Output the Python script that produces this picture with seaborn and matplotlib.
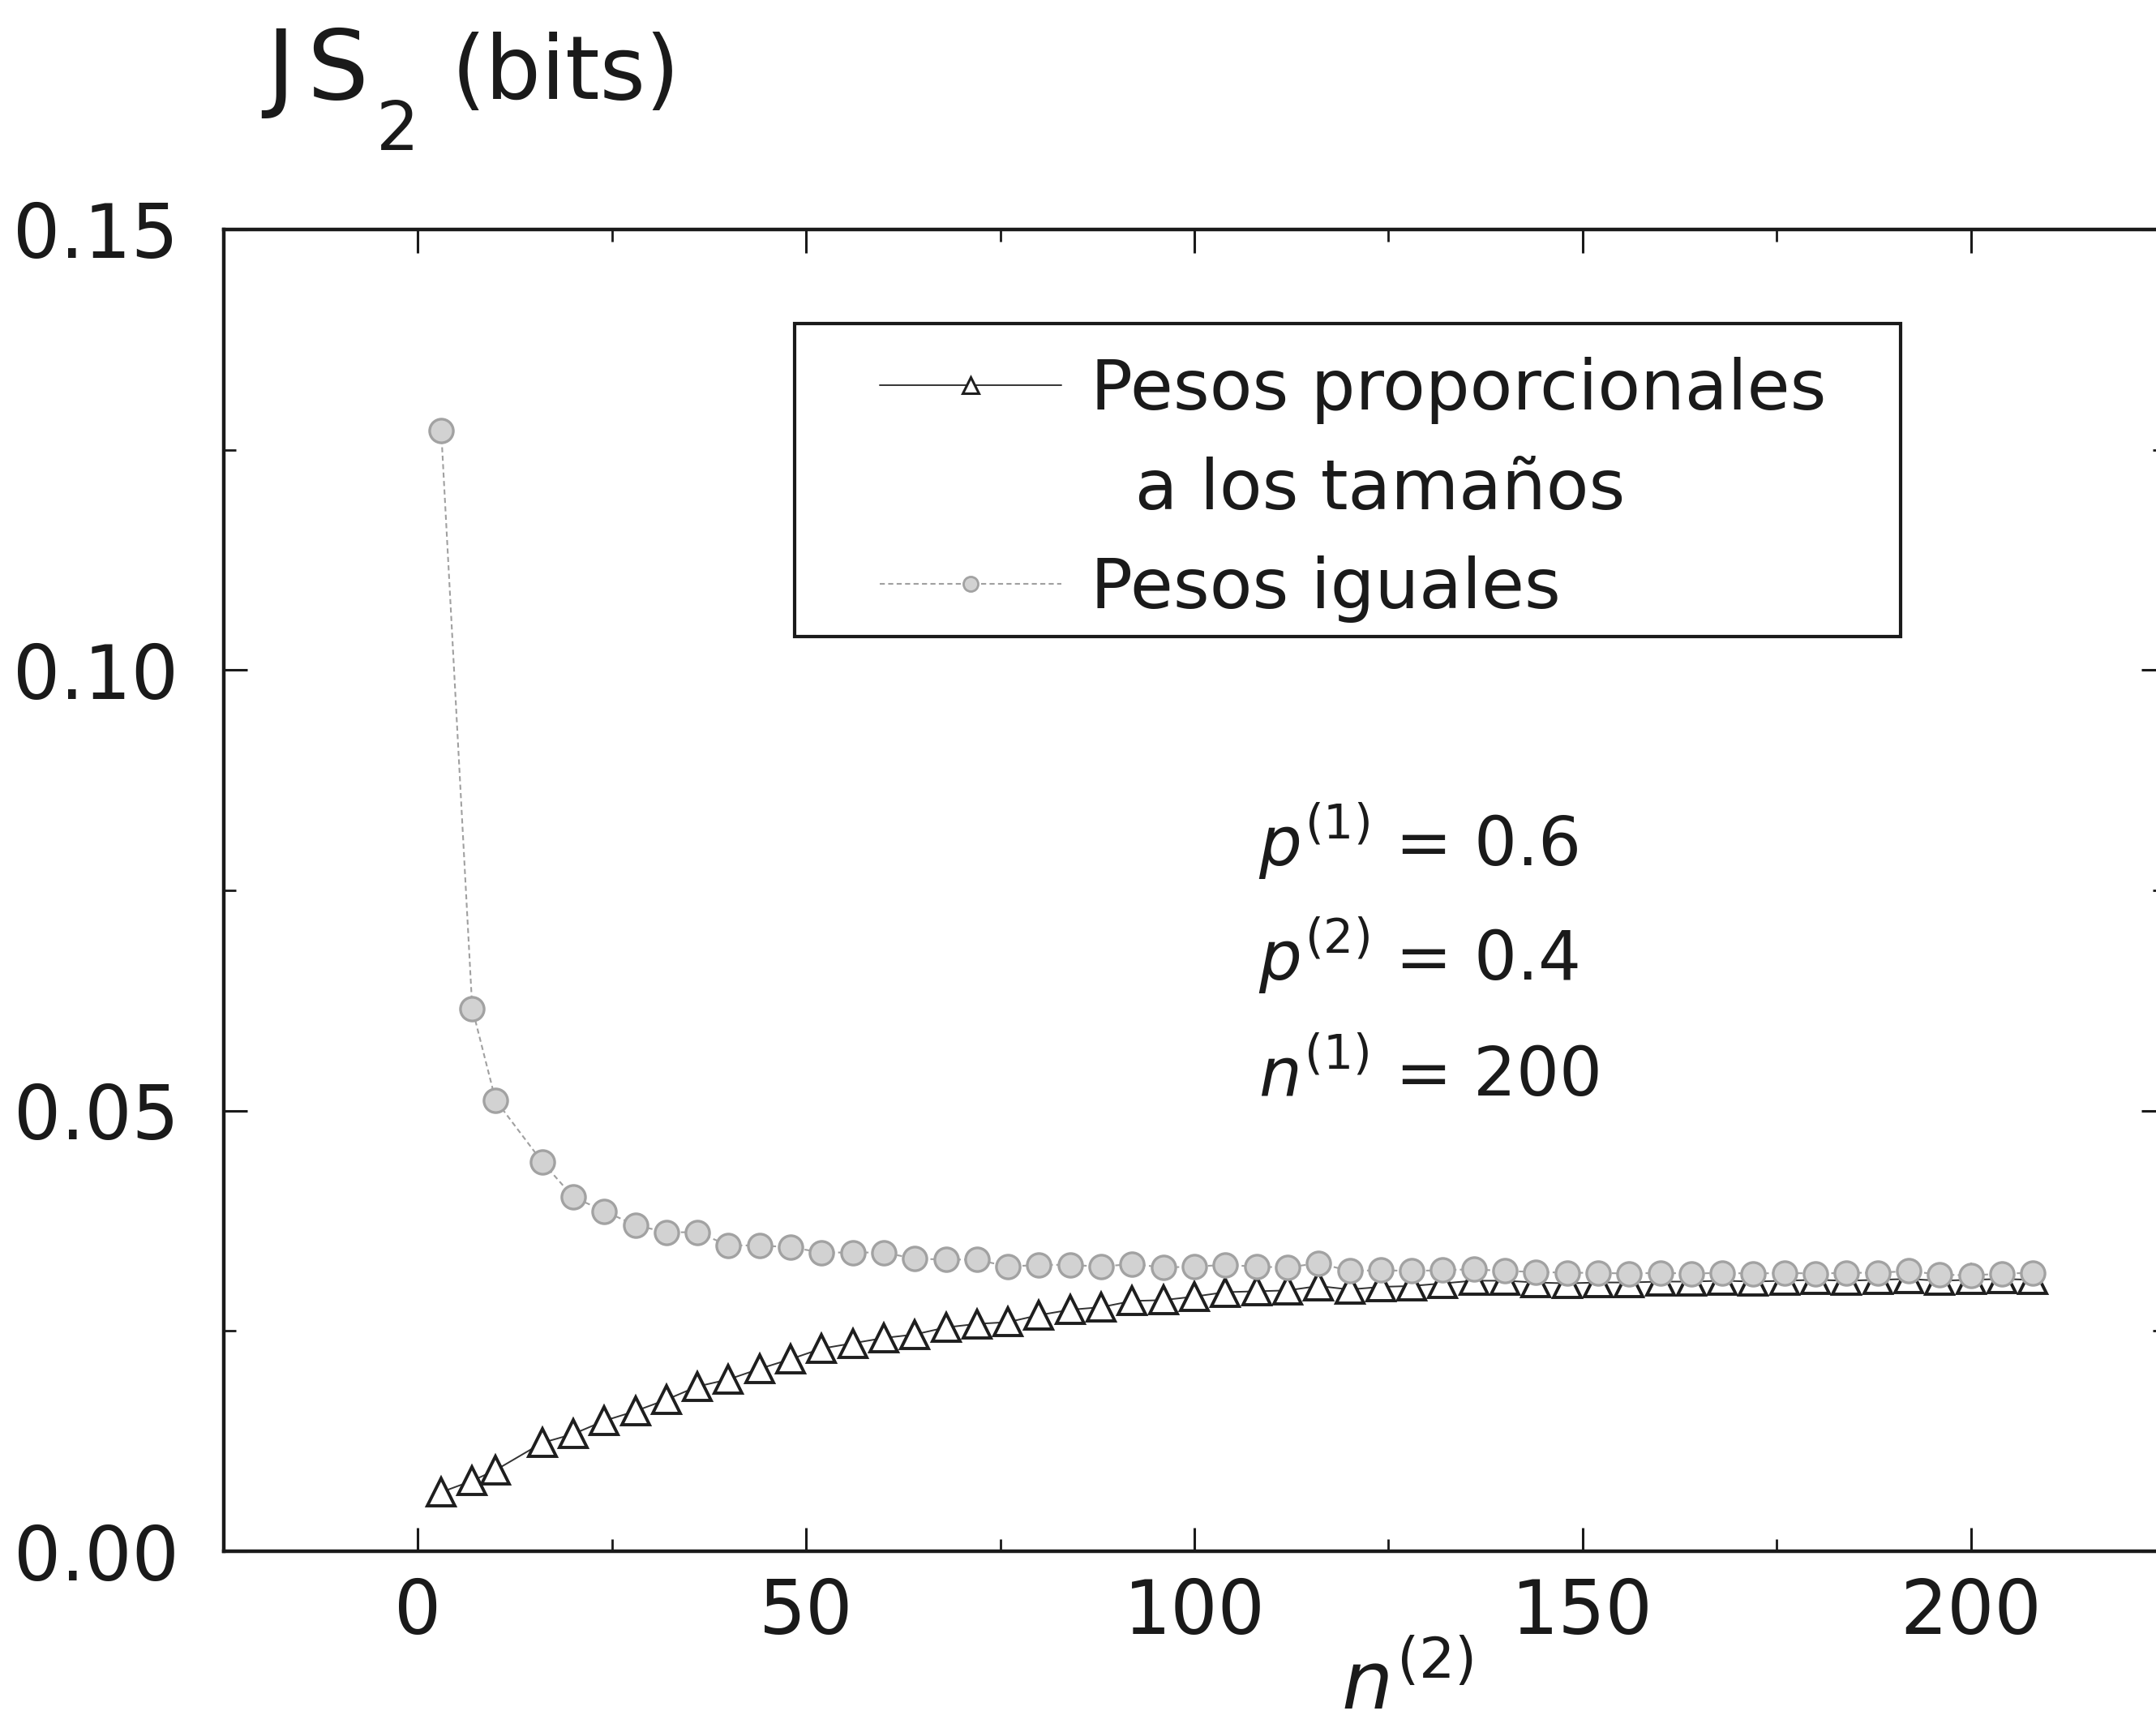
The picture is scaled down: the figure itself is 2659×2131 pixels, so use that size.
import matplotlib
matplotlib.use("Agg")
import matplotlib.pyplot as plt
import seaborn as sns
import pandas as pd
from matplotlib.lines import Line2D
from matplotlib.patches import Rectangle
from matplotlib.ticker import MultipleLocator, FixedLocator

# ---------------- data ----------------
n2 = [3, 7, 10, 16, 20, 24, 28, 32, 36, 40, 44, 48, 52, 56, 60, 64, 68, 72, 76, 80,
      84, 88, 92, 96, 100, 104, 108, 112, 116, 120, 124, 128, 132, 136, 140, 144,
      148, 152, 156, 160, 164, 168, 172, 176, 180, 184, 188, 192, 196, 200, 204, 208]

js_proporcionales = [0.0067, 0.0080, 0.0092, 0.0123, 0.0133, 0.0148, 0.0159, 0.0172,
                     0.0187, 0.0195, 0.0207, 0.0218, 0.0230, 0.0236, 0.0242, 0.0246,
                     0.0254, 0.0258, 0.0260, 0.0268, 0.0274, 0.0277, 0.0284, 0.0285,
                     0.0289, 0.0294, 0.0295, 0.0296, 0.0301, 0.0297, 0.0300, 0.0301,
                     0.0304, 0.0307, 0.0307, 0.0305, 0.0304, 0.0305, 0.0305, 0.0306,
                     0.0306, 0.0307, 0.0306, 0.0307, 0.0308, 0.0307, 0.0308, 0.0309,
                     0.0307, 0.0308, 0.0309, 0.0308]

js_iguales = [0.1272, 0.0616, 0.0512, 0.0442, 0.0402, 0.0386, 0.0370, 0.0362,
              0.0362, 0.0347, 0.0347, 0.0345, 0.0339, 0.0339, 0.0339, 0.0332,
              0.0331, 0.0331, 0.0323, 0.0325, 0.0325, 0.0323, 0.0326, 0.0322,
              0.0323, 0.0325, 0.0323, 0.0322, 0.0327, 0.0318, 0.0319, 0.0318,
              0.0319, 0.0320, 0.0318, 0.0317, 0.0316, 0.0316, 0.0315, 0.0316,
              0.0315, 0.0316, 0.0315, 0.0316, 0.0315, 0.0316, 0.0316, 0.0318,
              0.0314, 0.0313, 0.0315, 0.0316]

x_ticks = [0, 50, 100, 150, 200]
y_ticks = [0.00, 0.05, 0.10, 0.15]
y_tick_labels = ["0.00", "0.05", "0.10", "0.15"]
legend_labels = ["Pesos proporcionales", "  a los tamaños", "Pesos iguales"]
annotations = [r"$p^{(1)}$ = 0.6", r"$p^{(2)}$ = 0.4", r"$n^{(1)}$ = 200"]

df = pd.DataFrame({"n2": n2, "prop": js_proporcionales, "igual": js_iguales})

# ---------------- figure ----------------
sns.set_style("ticks")
plt.rcParams["font.family"] = ["DejaVu Sans"]
plt.rcParams["mathtext.fontset"] = "dejavusans"

W, H = 2659, 2131
fig = plt.figure(figsize=(W / 100, H / 100), dpi=100)
fig.patch.set_facecolor("white")

ax_l, ax_r, ax_t, ax_b = 276, 2670, 283, 1913
ax = fig.add_axes([ax_l / W, 1 - ax_b / H, (ax_r - ax_l) / W, (ax_b - ax_t) / H])
ax.set_facecolor("white")

sns.lineplot(data=df, x="n2", y="prop", ax=ax, color="#333333", linewidth=1.4,
             marker="^", markersize=24, markerfacecolor="white",
             markeredgecolor="#1e1e1e", markeredgewidth=2.8, legend=False, zorder=3)
sns.lineplot(data=df, x="n2", y="igual", ax=ax, color="#a0a0a0", linewidth=1.5,
             linestyle=(0, (3, 2)), marker="o", markersize=21,
             markerfacecolor="#d2d2d2", markeredgecolor="#a2a2a2",
             markeredgewidth=2.4, legend=False, zorder=4)

ax.set_xlim(-25, 225)
ax.set_ylim(0, 0.15)
ax.xaxis.set_major_locator(FixedLocator(x_ticks))
ax.xaxis.set_minor_locator(MultipleLocator(25))
ax.yaxis.set_major_locator(FixedLocator(y_ticks))
ax.set_yticklabels(y_tick_labels)
ax.yaxis.set_minor_locator(MultipleLocator(0.025))
ax.set_xlabel("")
ax.set_ylabel("")

for s in ax.spines.values():
    s.set_visible(True)
    s.set_linewidth(3.2)
    s.set_color("#1a1a1a")

ax.tick_params(axis="both", which="both", direction="in", top=True, right=True,
               color="#1a1a1a")
ax.tick_params(axis="both", which="major", length=21, width=2.2, labelsize=66,
               labelcolor="#1a1a1a")
ax.tick_params(axis="both", which="minor", length=11, width=2.0)
ax.tick_params(axis="y", which="major", pad=40)
ax.tick_params(axis="x", which="major", pad=22)

# ---------------- legend ----------------
h_prop = Line2D([], [], color="#333333", linewidth=1.4, marker="^", markersize=14,
                markerfacecolor="white", markeredgecolor="#1e1e1e", markeredgewidth=2.2)
h_blank = Line2D([], [], color="none")
h_igual = Line2D([], [], color="#a0a0a0", linewidth=1.5, linestyle=(0, (3, 2)),
                 marker="o", markersize=13, markerfacecolor="#d2d2d2",
                 markeredgecolor="#a2a2a2", markeredgewidth=2.0)

def axx(px):
    return (px - ax_l) / (ax_r - ax_l)

def axy(py):
    return (ax_b - py) / (ax_b - ax_t)

leg = ax.legend([h_prop, h_blank, h_igual], legend_labels, loc="upper left",
                bbox_to_anchor=(axx(1085), axy(440)), frameon=False, fontsize=62,
                handlelength=2.6, handletextpad=0.42, labelspacing=0.46,
                borderpad=0, borderaxespad=0)
for t in leg.get_texts():
    t.set_color("#1a1a1a")

box = Rectangle((axx(980), axy(785)), axx(2344) - axx(980), axy(399) - axy(785),
                transform=ax.transAxes, fill=False, edgecolor="#1a1a1a",
                linewidth=3.0, zorder=5)
ax.add_patch(box)

# ---------------- annotations ----------------
for txt, base in zip(annotations, [1068, 1209, 1352]):
    ax.text(axx(1552), axy(base), txt, transform=ax.transAxes, fontsize=60,
            ha="left", va="baseline", color="#1a1a1a")

# ---------------- axis titles ----------------
fig.text(328 / W, 1 - 122 / H, "J", fontsize=86, ha="left", va="baseline",
         color="#1a1a1a")
fig.text(378 / W, 1 - 122 / H, "S", fontsize=86, ha="left", va="baseline",
         color="#1a1a1a")
fig.text(464 / W, 1 - 185 / H, "2", fontsize=60, ha="left", va="baseline",
         color="#1a1a1a")
fig.text(557 / W, 1 - 122 / H, "(bits)", fontsize=78, ha="left", va="baseline",
         color="#1a1a1a")

fig.text(1654 / W, 1 - 2108 / H, r"$n^{(2)}$", fontsize=72, ha="left",
         va="baseline", color="#1a1a1a")

fig.savefig("out.png", dpi=100, facecolor="white")
